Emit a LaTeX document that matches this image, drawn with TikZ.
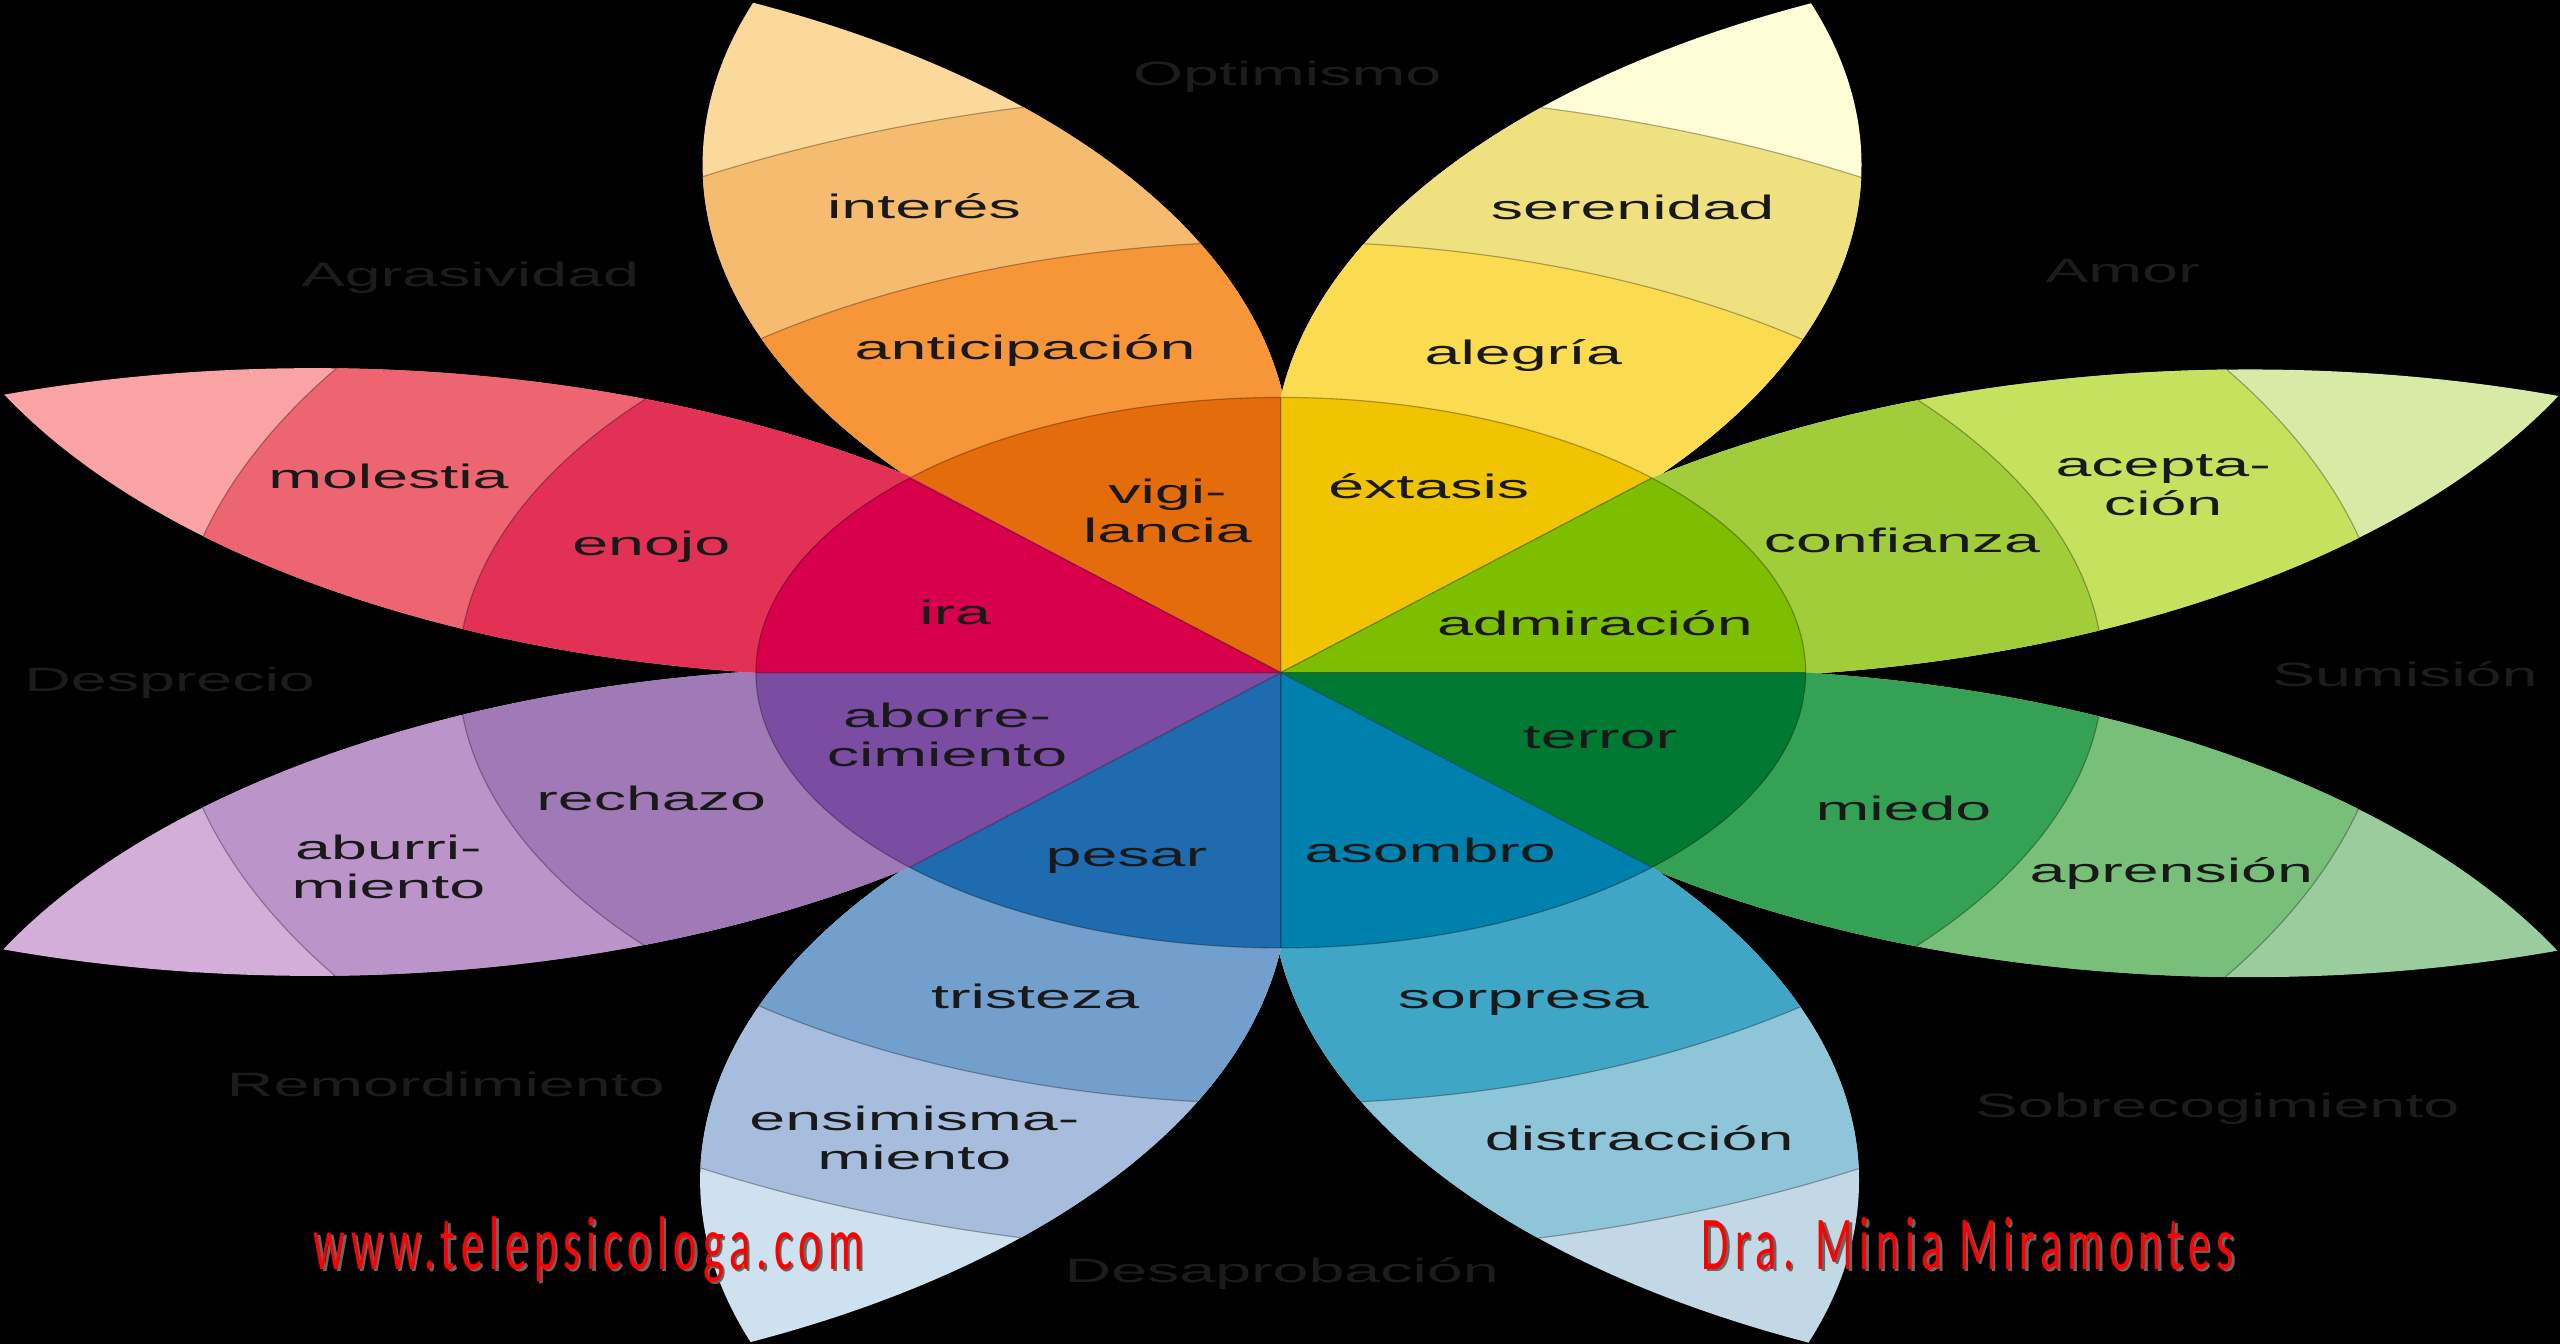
\documentclass[tikz,border=0pt]{standalone}
\usepackage{fontspec}
\setmainfont{Liberation Sans}
\newfontfamily\firmafont[LetterSpace=14]{Carlito}

% Colours of the wheel (inner, middle, outer, tip)
\definecolor{rojoA}{RGB}{216,0,74}
\definecolor{rojoB}{RGB}{227,48,85}
\definecolor{rojoC}{RGB}{236,101,112}
\definecolor{rojoD}{RGB}{249,163,165}
\definecolor{naranjaA}{RGB}{228,108,10}
\definecolor{naranjaB}{RGB}{247,150,56}
\definecolor{naranjaC}{RGB}{245,187,110}
\definecolor{naranjaD}{RGB}{251,217,155}
\definecolor{amarilloA}{RGB}{240,196,0}
\definecolor{amarilloB}{RGB}{251,219,79}
\definecolor{amarilloC}{RGB}{239,224,128}
\definecolor{amarilloD}{RGB}{255,253,214}
\definecolor{limaA}{RGB}{125,190,0}
\definecolor{limaB}{RGB}{162,205,58}
\definecolor{limaC}{RGB}{197,225,94}
\definecolor{limaD}{RGB}{216,235,166}
\definecolor{verdeA}{RGB}{0,122,51}
\definecolor{verdeB}{RGB}{53,161,84}
\definecolor{verdeC}{RGB}{120,192,122}
\definecolor{verdeD}{RGB}{155,204,157}
\definecolor{celesteA}{RGB}{0,128,172}
\definecolor{celesteB}{RGB}{64,166,198}
\definecolor{celesteC}{RGB}{142,197,217}
\definecolor{celesteD}{RGB}{194,217,229}
\definecolor{azulA}{RGB}{30,107,176}
\definecolor{azulB}{RGB}{114,159,203}
\definecolor{azulC}{RGB}{167,189,221}
\definecolor{azulD}{RGB}{206,225,239}
\definecolor{moradoA}{RGB}{123,77,162}
\definecolor{moradoB}{RGB}{159,122,183}
\definecolor{moradoC}{RGB}{187,148,202}
\definecolor{moradoD}{RGB}{211,174,216}

% Outline of one petal, pointing along the x axis
\newcommand{\petalpath}{(0,0) -- (22.5:168.6)
  arc[start angle=105.7, end angle=48.9, radius=310.6]
  arc[start angle=-48.9, end angle=-105.7, radius=310.6] -- cycle}

% Petal: angle, inner, middle, outer, tip
\newcommand{\petalo}[5]{%
  \begin{scope}[rotate=#1]
    \fill[#5] \petalpath;
    \begin{scope}
      \clip \petalpath;
      \fill[#4] (0,0) circle[radius=356];
      \fill[#3] (0,0) circle[radius=264];
      \draw[ring] (0,0) circle[radius=356] (0,0) circle[radius=264];
    \end{scope}
    \fill[#2] (0,0) -- (-22.5:168.6) arc[start angle=-22.5, end angle=22.5, radius=168.6] -- cycle;
    \draw[ring] (-22.5:168.6) arc[start angle=-22.5, end angle=22.5, radius=168.6];
    \draw[ring] (-22.5:168.6) -- (0,0) -- (22.5:168.6);
  \end{scope}}

\begin{document}
\begin{tikzpicture}[x=0.02cm,y=0.02cm]
  % Define styles
  \tikzstyle{ring} = [draw=black, draw opacity=0.3, line width=0.4pt]
  \tikzstyle{emocion} = [font=\fontsize{11.8}{13.6}\selectfont, text=black!90,
  align=center, inner sep=0pt, transform shape]
  \tikzstyle{diada} = [font=\fontsize{11.8}{13.6}\selectfont, text=black!89,
  inner sep=0pt, transform shape]
  \tikzstyle{firma} = [font=\firmafont\fontsize{26.5}{30}\selectfont, text=red,
  anchor=base, xscale=0.582, inner sep=0pt]
  \tikzstyle{sombra} = [firma, text=black!60]

  % Black background
  \fill[black] (-784.5,-411) rectangle (783.5,412);

  \begin{scope}[xscale=1.907]
    % Petals
    \petalo{112.5}{naranjaA}{naranjaB}{naranjaC}{naranjaD}
    \petalo{67.5}{amarilloA}{amarilloB}{amarilloC}{amarilloD}
    \petalo{22.5}{limaA}{limaB}{limaC}{limaD}
    \petalo{-22.5}{verdeA}{verdeB}{verdeC}{verdeD}
    \petalo{-67.5}{celesteA}{celesteB}{celesteC}{celesteD}
    \petalo{-112.5}{azulA}{azulB}{azulC}{azulD}
    \petalo{-157.5}{moradoA}{moradoB}{moradoC}{moradoD}
    \petalo{157.5}{rojoA}{rojoB}{rojoC}{rojoD}

    % Dyads round the wheel
    \node[diada] (optimismo) at (2,365) {Optimismo};
    \node[diada] (agresividad) at (-260.3,242) {Agrasividad};
    \node[diada] (amor) at (270.3,246) {Amor};
    \node[diada] (desprecio) at (-356.9,-6) {Desprecio};
    \node[diada] (sumision) at (361,-1) {Sumisión};
    \node[diada] (remordimiento) at (-268.2,-252) {Remordimiento};
    \node[diada] (sobrecogimiento) at (300.7,-267) {Sobrecogimiento};
    \node[diada] (desaprobacion) at (0.3,-368) {Desaprobación};

    % Emotions on the petals
    \node[emocion] (interes) at (-114.6,286) {interés};
    \node[emocion] (anticipacion) at (-82.1,197) {anticipación};
    \node[emocion] (vigilancia) at (-36.4,99) {vigi-\\lancia};
    \node[emocion] (serenidad) at (113,285) {serenidad};
    \node[emocion] (alegria) at (77.9,194) {alegría};
    \node[emocion] (extasis) at (47.5,114) {éxtasis};
    \node[emocion] (aceptacion) at (283.4,115) {acepta-\\ción};
    \node[emocion] (confianza) at (199.5,81) {confianza};
    \node[emocion] (admiracion) at (100.9,30) {admiración};
    \node[emocion] (molestia) at (-286.6,120) {molestia};
    \node[emocion] (enojo) at (-202.2,77) {enojo};
    \node[emocion] (ira) at (-104.6,37) {ira};
    \node[emocion] (aborrecimiento) at (-107.2,-38) {aborre-\\cimiento};
    \node[emocion] (rechazo) at (-202.2,-77) {rechazo};
    \node[emocion] (aburrimiento) at (-286.6,-119) {aburri-\\miento};
    \node[emocion] (pesar) at (-49.6,-115) {pesar};
    \node[emocion] (asombro) at (48,-109) {asombro};
    \node[emocion] (terror) at (102.5,-40) {terror};
    \node[emocion] (miedo) at (200,-83) {miedo};
    \node[emocion] (aprension) at (286,-123) {aprensión};
    \node[emocion] (tristeza) at (-78.9,-198) {tristeza};
    \node[emocion] (ensimismamiento) at (-117.7,-285) {ensimisma-\\miento};
    \node[emocion] (sorpresa) at (77.9,-202) {sorpresa};
    \node[emocion] (distraccion) at (115.1,-285) {distracción};
  \end{scope}

  % Signatures at bottom
  \node[sombra] (webSombra) at (-422.5,-366.9) {www.telepsicologa.com};
  \node[firma] (web) at (-424,-365.4) {www.telepsicologa.com};
  \node[sombra] (autoraSombra) at (422.3,-366.9) {Dra. Minia Miramontes};
  \node[firma] (autora) at (420.8,-365.4) {Dra. Minia Miramontes};
\end{tikzpicture}
\end{document}
